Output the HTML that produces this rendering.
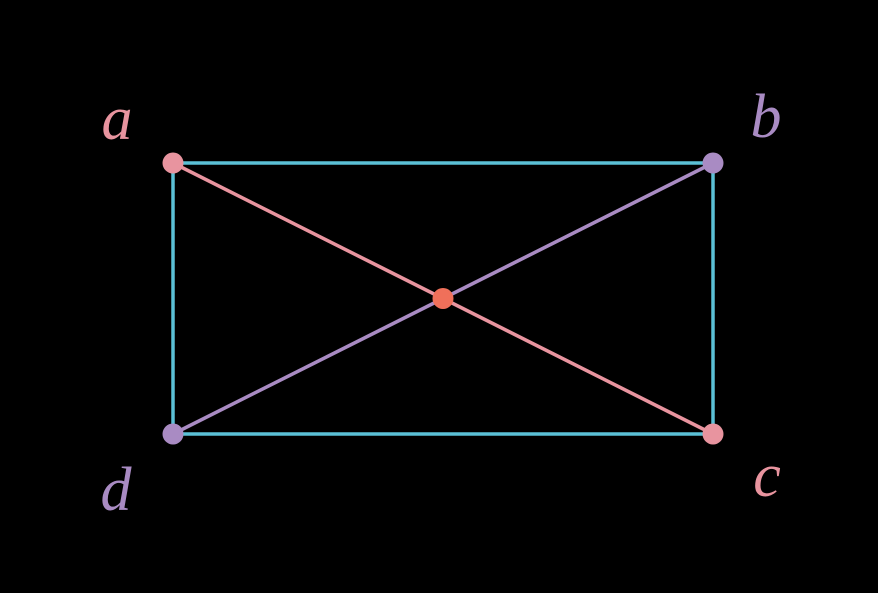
<!DOCTYPE html>
<html><head><meta charset="utf-8"><style>
html,body{margin:0;padding:0;background:#000;width:878px;height:593px;overflow:hidden}
text{font-family:"Liberation Serif",serif;font-style:italic;font-size:62px}
</style></head><body>
<svg width="878" height="593">
<g id="g"></g>
</svg>
<script>
const pts = {a:[173,163], b:[713,163], c:[713,434], d:[173,434]};
const pink="#e8949f", purple="#a98bc3", cyan="#5bc0d6", center="#f0705a";
const g=document.getElementById('g');
const NS="http://www.w3.org/2000/svg";
function line(p,q,col,name){
 const l=document.createElementNS(NS,'line');
 l.setAttribute('x1',p[0]);l.setAttribute('y1',p[1]);l.setAttribute('x2',q[0]);l.setAttribute('y2',q[1]);
 l.setAttribute('stroke',col);l.setAttribute('stroke-width',3.5);
 
 
 g.appendChild(l);
}
function dot(p,col,name){
 const c=document.createElementNS(NS,'circle');
 c.setAttribute('cx',p[0]);c.setAttribute('cy',p[1]);c.setAttribute('r',10.5);c.setAttribute('fill',col);
 
 
 g.appendChild(c);
}
function label(t,x,y,col,name){
 const e=document.createElementNS(NS,'text');
 e.setAttribute('x',x);e.setAttribute('y',y);e.setAttribute('fill',col);e.setAttribute('text-anchor','middle');
 e.textContent=t;
 
 
 g.appendChild(e);
}
line(pts.a,pts.b,cyan,'edge-ab');
line(pts.b,pts.c,cyan,'edge-bc');
line(pts.c,pts.d,cyan,'edge-cd');
line(pts.d,pts.a,cyan,'edge-da');
line(pts.a,pts.c,pink,'diagonal-ac');
line(pts.b,pts.d,purple,'diagonal-bd');
dot(pts.a,pink,'point-a');
dot(pts.b,purple,'point-b');
dot(pts.c,pink,'point-c');
dot(pts.d,purple,'point-d');
const m=[(pts.a[0]+pts.c[0])/2,(pts.a[1]+pts.c[1])/2];
dot(m,center,'intersection-point');
label('a',117,139,pink,'label-a');
label('b',766,137,purple,'label-b');
label('c',767,496,pink,'label-c');
label('d',116,510,purple,'label-d');
</script>
</body></html>
